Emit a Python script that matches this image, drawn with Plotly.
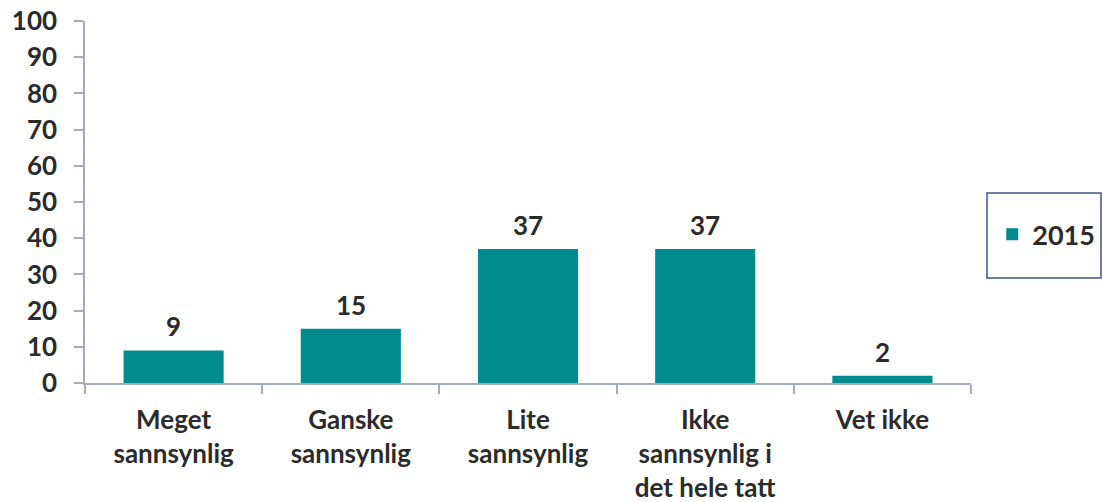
import plotly.graph_objects as go

categories = ["Meget<br>sannsynlig", "Ganske<br>sannsynlig", "Lite<br>sannsynlig",
              "Ikke<br>sannsynlig i<br>det hele tatt", "Vet ikke"]
values_2015 = [9, 15, 37, 37, 2]
series_name = "2015"
y_ticks = list(range(0, 101, 10))

TEAL = "#008B8E"
TEXT = "#2B2B2B"
AXIS = "#A3ABC2"
FONT = "Lato"

fig = go.Figure()
fig.add_trace(go.Bar(
    x=categories, y=values_2015, name=series_name,
    marker=dict(color=TEAL, line=dict(width=0)),
    width=0.565,
))

# Value labels above each bar
for c, v in zip(categories, values_2015):
    fig.add_annotation(x=c, y=v, text=str(v), showarrow=False,
                       yanchor="bottom", yshift=6,
                       font=dict(family=FONT, size=26, color=TEXT, weight="bold"))

fig.update_layout(
    width=1102, height=502,
    margin=dict(l=85, r=131, t=21, b=119, pad=0, autoexpand=False),
    paper_bgcolor="white", plot_bgcolor="white",
    font=dict(family=FONT, size=26, color=TEXT, weight="bold"),
    bargap=0.435,
    showlegend=True,
    legend=dict(x=1.024, xanchor="left", y=0.41, yanchor="middle",
                bgcolor="rgba(0,0,0,0)", borderwidth=0,
                font=dict(family=FONT, size=27, color=TEXT, weight="bold"),
                itemwidth=30),
    xaxis=dict(
        showline=True, linecolor=AXIS, linewidth=1.5,
        ticks="outside", ticklen=9, tickcolor=AXIS, tickwidth=1.5,
        tickson="boundaries", showgrid=False, zeroline=False,
        tickfont=dict(family=FONT, size=26, color=TEXT, weight="bold"),
        ticklabelstandoff=13, automargin=False,
    ),
    yaxis=dict(
        range=[0, 100], tickvals=y_ticks,
        showline=True, linecolor=AXIS, linewidth=1.5,
        ticks="outside", ticklen=9, tickcolor=AXIS, tickwidth=1.5,
        showgrid=False, zeroline=False,
        tickfont=dict(family=FONT, size=26, color=TEXT, weight="bold"),
        ticklabelstandoff=12, automargin=False,
    ),
)

# Legend frame
fig.add_shape(type="rect", xref="paper", yref="paper",
              x0=(987 - 85) / 886, x1=(1101 - 85) / 886,
              y0=(383 - 278) / 362, y1=(383 - 193) / 362,
              line=dict(color="#3F5488", width=1.5), fillcolor="rgba(0,0,0,0)")

fig.write_html("out.html")
